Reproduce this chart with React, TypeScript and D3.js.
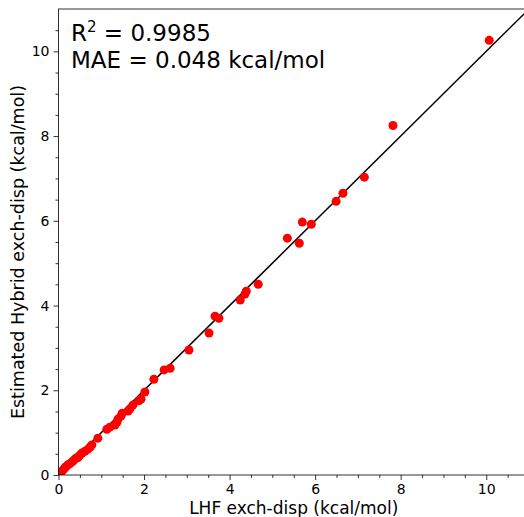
import React, { useEffect, useRef } from 'react';
import * as d3 from 'd3';

// LHF exch-disp (x) vs estimated hybrid exch-disp (y), kcal/mol
const lhf = [
  10.07, 7.82, 7.15, 6.65, 6.49, 5.91, 5.70, 5.63, 5.35, 4.67, 4.39, 4.36, 4.25, 3.75, 3.66, 3.52,
  3.05, 2.61, 2.47, 2.23, 2.02, 1.93, 1.88, 1.74, 1.67, 1.63, 1.49, 1.46, 1.39, 1.37, 1.32, 1.20,
  1.13, 0.92, 0.78, 0.74, 0.69, 0.62, 0.55, 0.50, 0.46, 0.42, 0.39, 0.35, 0.32, 0.27, 0.22, 0.18,
  0.15, 0.11, 0.08, 0.04,
];
const hybrid = [
  10.26, 8.25, 7.03, 6.65, 6.46, 5.92, 5.97, 5.47, 5.59, 4.50, 4.34, 4.27, 4.13, 3.70, 3.75, 3.35,
  2.95, 2.52, 2.48, 2.26, 1.96, 1.79, 1.75, 1.65, 1.56, 1.51, 1.46, 1.39, 1.32, 1.25, 1.18, 1.13,
  1.08, 0.87, 0.71, 0.66, 0.61, 0.56, 0.52, 0.47, 0.42, 0.40, 0.38, 0.34, 0.31, 0.27, 0.24, 0.20,
  0.17, 0.12, 0.09, 0.05,
];
const ticks = [0, 2, 4, 6, 8, 10];
const minorTicks = [0.5, 1, 1.5, 2.5, 3, 3.5, 4.5, 5, 5.5, 6.5, 7, 7.5, 8.5, 9, 9.5, 10.5];
const statLines = ['= 0.9985', 'MAE = 0.048 kcal/mol'];

export default function App() {
  const ref = useRef<SVGSVGElement>(null);

  useEffect(() => {
    const svg = d3.select(ref.current);
    svg.selectAll('*').remove();
    const m = { l: 58.5, t: 9, r: 529, b: 475 };
    const x = d3.scaleLinear().domain([0, 11]).range([m.l, m.r]);
    const y = d3.scaleLinear().domain([0, 11]).range([m.b, m.t]);
    const font = 'DejaVu Sans, sans-serif';

    svg.append('clipPath').attr('id', 'plot').append('rect')
      .attr('x', m.l).attr('y', m.t).attr('width', m.r - m.l).attr('height', m.b - m.t);

    const plot = svg.append('g').attr('clip-path', 'url(#plot)');
    plot.append('line')
      .attr('x1', x(0)).attr('y1', y(0)).attr('x2', x(11)).attr('y2', y(11))
      .attr('stroke', '#000').attr('stroke-width', 1.5);
    plot.selectAll('circle').data(lhf).enter().append('circle')
      .attr('cx', d => x(d)).attr('cy', (d, i) => y(hybrid[i]))
      .attr('r', 4.5).attr('fill', '#ff0000');

    // frame
    svg.append('rect').attr('x', m.l).attr('y', m.t).attr('width', m.r - m.l).attr('height', m.b - m.t)
      .attr('fill', 'none').attr('stroke', '#000').attr('stroke-width', 0.8);

    const xa = svg.append('g').attr('transform', `translate(0,${m.b})`)
      .call(d3.axisBottom(x).tickValues(ticks).tickSize(5).tickPadding(4).tickFormat(d3.format('d')));
    xa.append('g').call(d3.axisBottom(x).tickValues(minorTicks).tickSize(3).tickFormat(() => ''));
    const ya = svg.append('g').attr('transform', `translate(${m.l},0)`)
      .call(d3.axisLeft(y).tickValues(ticks).tickSize(5).tickPadding(4).tickFormat(d3.format('d')));
    ya.append('g').call(d3.axisLeft(y).tickValues(minorTicks).tickSize(3).tickFormat(() => ''));
    svg.selectAll('.domain').remove();
    svg.selectAll('.tick line').attr('stroke', '#000').attr('stroke-width', 0.8);
    svg.selectAll('.tick text').attr('font-family', font).attr('font-size', 14).attr('fill', '#000');

    svg.append('text').attr('x', (m.l + m.r) / 2).attr('y', 514).attr('text-anchor', 'middle')
      .attr('font-family', font).attr('font-size', 17).text('LHF exch-disp (kcal/mol)');
    svg.append('text').attr('transform', `translate(24,${(m.t + m.b) / 2 + 10}) rotate(-90)`).attr('text-anchor', 'middle')
      .attr('font-family', font).attr('font-size', 17.5).text('Estimated Hybrid exch-disp (kcal/mol)');

    const t1 = svg.append('text').attr('x', 71).attr('y', 41).attr('font-family', font).attr('font-size', 23);
    t1.append('tspan').text('R');
    t1.append('tspan').attr('dy', -9).attr('font-size', 15).text('2');
    t1.append('tspan').attr('dy', 9).text(' ' + statLines[0]);
    svg.append('text').attr('x', 71).attr('y', 68).attr('font-family', font).attr('font-size', 23).text(statLines[1]);
  }, []);

  return <svg ref={ref} width={524} height={517} style={{ position: 'absolute', left: 0, top: 0, background: '#fff' }} />;
}
